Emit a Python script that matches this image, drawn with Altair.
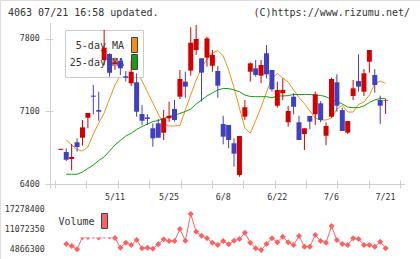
import altair as alt
import pandas as pd

# ---- daily candles, one per trading day (index 0..60) ----
opens = [6730, 6708, 6641, 6803, 6847, 7040, 7253, 7114, 7597, 7655,
         7556, 7588, 7440, 7372, 7382, 7076, 7043, 6938, 6986, 6895,
         7034, 7124, 7243, 7388, 7494, 7694, 7614, 7620, 7542, 7491,
         6979, 6970, 6793, 6487, 7050, 7484, 7517, 7446, 7662, 7501,
         7156, 7276, 6996, 7243, 6996, 6883, 7057, 7073, 7179, 6866,
         7050, 7382, 7114, 6896, 7250, 7394, 7291, 7581, 7452, 7211,
         7205]
highs = [6740, 6745, 6786, 6841, 7018, 7086, 7356, 7291, 7887, 7662,
         7620, 7616, 7490, 7591, 7469, 7163, 7073, 6986, 7028, 7114,
         7195, 7211, 7501, 7485, 7913, 7935, 7614, 7822, 7694, 7539,
         7059, 6970, 6841, 6863, 7211, 7575, 7597, 7597, 7742, 7501,
         7388, 7420, 7153, 7276, 7059, 6938, 7057, 7291, 7200, 6996,
         7427, 7459, 7137, 7008, 7404, 7652, 7510, 7694, 7510, 7253,
         7221]
lows = [6730, 6622, 6532, 6712, 6770, 6938, 7073, 7011, 7549, 7436,
        7501, 7452, 7390, 7346, 7050, 6970, 6970, 6760, 6847, 6825,
        7000, 7002, 7221, 7233, 7446, 7646, 7195, 7533, 7484, 7233,
        6783, 6745, 6567, 6470, 7018, 7388, 7436, 7372, 7420, 7291,
        7137, 7211, 6953, 7073, 6825, 6728, 6928, 6970, 6996, 6776,
        7040, 7098, 6912, 6883, 7211, 7291, 7250, 7475, 7282, 6979,
        7076]
closes = [6740, 6635, 6661, 6757, 6947, 7086, 7243, 7098, 7716, 7474,
          7575, 7517, 7425, 7484, 7098, 7011, 7028, 6841, 6847, 7034,
          7059, 7018, 7414, 7340, 7764, 7800, 7475, 7806, 7646, 7349,
          6857, 6825, 6693, 6863, 7141, 7565, 7452, 7549, 7459, 7314,
          7308, 7308, 7105, 7146, 6825, 6938, 7002, 7266, 7018, 6960,
          7414, 7156, 6912, 7008, 7324, 7340, 7469, 7694, 7356, 7156,
          7211]

# ---- moving averages and volume, drawn from index 1..60 ----
ma5 = [6825, 6777, 6733, 6719, 6757, 6883, 6989, 7085, 7221, 7356,
       7452, 7539, 7559, 7501, 7394, 7288, 7182, 7076, 6979, 6960,
       6960, 6965, 7114, 7259, 7404, 7520, 7607, 7665, 7689, 7636,
       7501, 7327, 7134, 6941, 6890, 7013, 7143, 7288, 7423, 7467,
       7423, 7385, 7308, 7235, 7177, 7105, 7037, 7018, 7018, 7037,
       7124, 7160, 7095, 7095, 7168, 7192, 7259, 7366, 7394, 7372]
ma25 = [6494, 6494, 6494, 6516, 6550, 6583, 6627, 6661, 6719, 6777,
        6820, 6863, 6890, 6926, 6955, 6979, 7003, 7013, 7032, 7052,
        7066, 7081, 7100, 7124, 7172, 7211, 7250, 7279, 7308, 7322,
        7322, 7308, 7291, 7259, 7245, 7243, 7243, 7243, 7233, 7250,
        7250, 7253, 7264, 7264, 7264, 7264, 7259, 7255, 7242, 7216,
        7197, 7172, 7143, 7137, 7137, 7153, 7187, 7211, 7226, 7226]
volume = [6490000, 5880000, 4870000, 8650000, 8650000, 8950000, 8490000, 8950000, 8800000, 8340000,
          5360000, 6890000, 6190000, 7720000, 5170000, 5360000, 5050000, 6400000, 7940000, 7420000,
          7420000, 11100000, 7510000, 15710000, 10270000, 9010000, 8250000, 6890000, 6190000, 7420000,
          6400000, 7510000, 8030000, 9970000, 6890000, 5170000, 4650000, 6490000, 8250000, 7020000,
          8740000, 7020000, 6190000, 8950000, 5670000, 5670000, 9260000, 7420000, 6890000, 12020000,
          7720000, 6490000, 6190000, 8250000, 8030000, 6190000, 6190000, 5670000, 7200000, 5170000]

date_pos = [10, 20, 30, 40, 50, 60]
date_lbl = ["5/11", "5/25", "6/8", "6/22", "7/6", "7/21"]
grid_pos = [-1.077, 4.72, 10.52, 16.32, 22.11, 27.91, 33.71, 39.51, 45.30, 51.10, 56.90, 62.66]
price_ticks = [6400, 7100, 7800]
vol_ticks = [4866300, 11072350, 17278400]

RED = "#d40000"
BLUE = "#4040c0"
ORANGE = "#f0901a"
GREEN = "#10a010"
VOLC = "#ff6060"
AXC = "#d0d0d0"
TXT = "#333333"
MONO = "DejaVu Sans Mono"

candles = pd.DataFrame({
    "i": list(range(len(opens))),
    "open": opens, "high": highs, "low": lows, "close": closes,
})
candles["dir"] = ["up" if c >= o else "down" for o, c in zip(opens, closes)]

lines = pd.DataFrame({"j": list(range(1, len(ma5) + 1)), "ma5": ma5, "ma25": ma25, "vol": volume})
dates = pd.DataFrame({"i": date_pos, "label": date_lbl})
one = pd.DataFrame({"k": [0]})

xs = alt.Scale(domain=[-1.077, 62.66], range=[50, 405], nice=False, zero=False)
ps = alt.Scale(domain=[6361.4, 7964.1], range=[188, 22], nice=False, zero=False)
vs = alt.Scale(domain=[4866300, 17278400], range=[249.3, 209], nice=False, zero=False)
dir_color = alt.Scale(domain=["up", "down"], range=[RED, BLUE])

# moving averages
ma5_line = alt.Chart(lines).mark_line(color=ORANGE, strokeWidth=1).encode(
    x=alt.X("j:Q", scale=xs, axis=None),
    y=alt.Y("ma5:Q", scale=ps, axis=None))
ma25_line = alt.Chart(lines).mark_line(color=GREEN, strokeWidth=1).encode(
    x=alt.X("j:Q", scale=xs, axis=None),
    y=alt.Y("ma25:Q", scale=ps, axis=None))

# price legend panel
leg_box = alt.Chart(one).mark_rect(fill="white", stroke="#cccccc", strokeWidth=1).encode(
    x=alt.value(65.5), x2=alt.value(143.5), y=alt.value(30.5), y2=alt.value(77.5))
leg_txt1 = alt.Chart(one).mark_text(align="right", baseline="middle", font=MONO, fontSize=10, color=TXT).encode(
    x=alt.value(124), y=alt.value(45.5), text=alt.value("5-day MA"))
leg_txt2 = alt.Chart(one).mark_text(align="right", baseline="middle", font=MONO, fontSize=10, color=TXT).encode(
    x=alt.value(124), y=alt.value(63), text=alt.value("25-day MA"))
leg_sw1 = alt.Chart(one).mark_rect(fill=ORANGE, stroke="#444444", strokeWidth=1).encode(
    x=alt.value(131.5), x2=alt.value(137.5), y=alt.value(37.5), y2=alt.value(52.5))
leg_sw2 = alt.Chart(one).mark_rect(fill=GREEN, stroke="#444444", strokeWidth=1).encode(
    x=alt.value(131.5), x2=alt.value(137.5), y=alt.value(54.5), y2=alt.value(69.5))

# candles: wicks carry the main axes, bodies carry the inner tick halves
wicks = alt.Chart(candles).mark_rule(strokeWidth=1).encode(
    x=alt.X("i:Q", scale=xs, axis=alt.Axis(
        orient="bottom", offset=-75, values=grid_pos, labels=False, domainColor=AXC,
        tickColor=AXC, tickSize=4, grid=False, title=None)),
    y=alt.Y("low:Q", scale=ps, axis=alt.Axis(
        orient="left", offset=-50, values=price_ticks, domainColor=AXC, tickColor=AXC,
        tickSize=5, labelPadding=5.7, labelFont=MONO, labelFontSize=8.3, labelColor=TXT,
        grid=False, title=None, format="d")),
    y2="high:Q",
    color=alt.Color("dir:N", scale=dir_color, legend=None))
bodies = alt.Chart(candles).mark_bar(size=5).encode(
    x=alt.X("i:Q", scale=xs, axis=alt.Axis(
        orient="bottom", offset=-79, values=grid_pos, labels=False, domain=False,
        tickColor=AXC, tickSize=4, grid=False, title=None)),
    y=alt.Y("open:Q", scale=ps, axis=alt.Axis(
        orient="left", offset=-53, values=price_ticks, labels=False, domain=False,
        tickColor=AXC, tickSize=3, grid=False, title=None)),
    y2="close:Q",
    color=alt.Color("dir:N", scale=dir_color, legend=None))

date_text = alt.Chart(dates).mark_text(baseline="middle", font=MONO, fontSize=8.3, color=TXT).encode(
    x=alt.X("i:Q", scale=xs, axis=None), y=alt.value(198), text="label:N")

# volume
vol_line = alt.Chart(lines).mark_line(color=VOLC, strokeWidth=1).encode(
    x=alt.X("j:Q", scale=xs, axis=None),
    y=alt.Y("vol:Q", scale=vs, axis=alt.Axis(
        orient="left", offset=-50, values=vol_ticks, domain=False, ticks=False, tickSize=0,
        labelPadding=5.7, labelFont=MONO, labelFontSize=8.3, labelColor=TXT,
        grid=False, title=None, format="d")))
vol_pts = alt.Chart(lines).mark_point(shape="diamond", filled=True, size=36, color=VOLC, opacity=1).encode(
    x=alt.X("j:Q", scale=xs, axis=None),
    y=alt.Y("vol:Q", scale=vs, axis=None))
vleg_box = alt.Chart(one).mark_rect(fill="white").encode(
    x=alt.value(54), x2=alt.value(113), y=alt.value(204), y2=alt.value(237.5))
vleg_txt = alt.Chart(one).mark_text(align="left", baseline="middle", font=MONO, fontSize=10, color=TXT).encode(
    x=alt.value(58.5), y=alt.value(222), text=alt.value("Volume"))
vleg_sw = alt.Chart(one).mark_rect(fill=VOLC, stroke="#444444", strokeWidth=1).encode(
    x=alt.value(101.5), x2=alt.value(107.5), y=alt.value(213.5), y2=alt.value(228.5))

# header
head_l = alt.Chart(one).mark_text(align="left", baseline="middle", font=MONO, fontSize=10, color=TXT).encode(
    x=alt.value(8), y=alt.value(12.5), text=alt.value("4063 07/21 16:58 updated."))
head_r = alt.Chart(one).mark_text(align="right", baseline="middle", font=MONO, fontSize=10, color=TXT).encode(
    x=alt.value(410), y=alt.value(12.5), text=alt.value("(C)https://www.rizumu.net/"))

chart = alt.layer(
    ma5_line, ma25_line, leg_box, leg_txt1, leg_txt2, leg_sw1, leg_sw2,
    wicks, bodies, date_text,
    vol_line, vol_pts, vleg_box, vleg_txt, vleg_sw,
    head_l, head_r,
).resolve_scale(
    y="independent", color="shared"
).resolve_axis(
    x="independent", y="independent"
).properties(
    width=420, height=259, padding=0, autosize=alt.AutoSizeParams(type="none")
).configure_view(stroke=None).configure(background="white")

chart.save("out.html", embed_options={"renderer": "svg", "actions": False})
